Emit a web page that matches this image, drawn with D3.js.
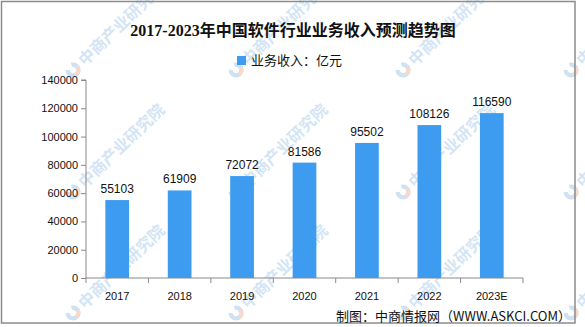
<!DOCTYPE html>
<html>
<head>
<meta charset="utf-8">
<script src="https://cdn.jsdelivr.net/npm/d3@7/dist/d3.min.js"></script>
<style>
  html, body { margin: 0; padding: 0; background: #fff; }
  svg { display: block; }
</style>
</head>
<body>
<div id="chart"></div>
<script>
// Software industry revenue, 100 million yuan
const years = ["2017", "2018", "2019", "2020", "2021", "2022", "2023E"];
const revenue = [55103, 61909, 72072, 81586, 95502, 108126, 116590];
const yTicks = [0, 20000, 40000, 60000, 80000, 100000, 120000, 140000];

const titleText = "2017-2023年中国软件行业业务收入预测趋势图";
const legendText = "业务收入：亿元";
const sourceText = "制图：中商情报网（WWW.ASKCI.COM）";
const markText = "中商产业研究院";

const W = 585, H = 327;
const barColor = "#3d9cf0";
const axisColor = "#8a8a8a";

const svg = d3.select("#chart").append("svg")
  .attr("width", W).attr("height", H);

svg.append("rect").attr("width", W).attr("height", H).attr("fill", "#fff");

// faint diagonal watermark grid
const wm = svg.append("g").attr("class", "watermarks");
const wmCols = [73, 236, 403, 571];
const wmRows = [70, 192, 313];
wmCols.forEach(cx => wmRows.forEach(cy => {
  const g = wm.append("g").attr("transform", `translate(${cx},${cy}) rotate(-44)`);
  const arc = d3.arc().innerRadius(3.2).outerRadius(7.5);
  g.append("path").attr("d", arc({startAngle: Math.PI * 0.15, endAngle: Math.PI * 1.75}))
    .attr("fill", "#cfe2f4");
  g.append("path").attr("d", arc({startAngle: Math.PI * 0.55, endAngle: Math.PI * 1.05}))
    .attr("fill", "#f6d9cc");
  g.append("text").attr("x", 11).attr("y", 6)
    .attr("font-family", "'Noto Sans CJK SC', sans-serif")
    .attr("font-weight", "bold")
    .attr("font-size", 16)
    .attr("fill", "#d3e5f5")
    .text(markText);
}));

// frame
svg.append("rect")
  .attr("x", 1.5).attr("y", 1.5).attr("width", 573.5).attr("height", 321.5)
  .attr("fill", "none").attr("stroke", "#8c8c8c").attr("stroke-width", 1.5);

const plot = { left: 86, right: 523, top: 80, bottom: 278 };

const x = d3.scaleBand().domain(years)
  .range([plot.left, plot.right])
  .paddingInner(0.62).paddingOuter(0.31);

const y = d3.scaleLinear().domain([0, 140000]).range([plot.bottom, plot.top]);

// title
svg.append("text")
  .attr("x", 293).attr("y", 36)
  .attr("text-anchor", "middle")
  .attr("font-family", "'Liberation Serif', 'Noto Sans CJK SC', serif")
  .attr("font-weight", "bold")
  .attr("font-size", 16)
  .attr("fill", "#111")
  .text(titleText);

// legend
svg.append("rect").attr("x", 237).attr("y", 56).attr("width", 9).attr("height", 9)
  .attr("fill", barColor);
svg.append("text")
  .attr("x", 251).attr("y", 65)
  .attr("font-family", "'Noto Sans CJK SC', sans-serif")
  .attr("font-size", 13)
  .attr("fill", "#111")
  .text(legendText);

// bars
svg.append("g").selectAll("rect").data(years).join("rect")
  .attr("x", d => x(d))
  .attr("y", (d, i) => y(revenue[i]))
  .attr("width", x.bandwidth())
  .attr("height", (d, i) => y(0) - y(revenue[i]))
  .attr("fill", barColor);

// value labels
svg.append("g").selectAll("text").data(years).join("text")
  .attr("x", d => x(d) + x.bandwidth() / 2)
  .attr("y", (d, i) => y(revenue[i]) - 7)
  .attr("text-anchor", "middle")
  .attr("font-family", "'Liberation Sans', Arial, sans-serif")
  .attr("font-size", 12)
  .attr("fill", "#111")
  .text((d, i) => revenue[i]);

// y axis
const yAxis = svg.append("g")
  .attr("transform", `translate(${plot.left},0)`)
  .call(d3.axisLeft(y).tickValues(yTicks).tickSize(5).tickPadding(3).tickFormat(d3.format("d")));
yAxis.selectAll("path, line").attr("stroke", axisColor);
yAxis.select(".domain").attr("d", `M-5,${plot.top}H0V${plot.bottom}`);
yAxis.selectAll("text")
  .attr("font-family", "'Liberation Sans', Arial, sans-serif")
  .attr("font-size", 11).attr("fill", "#111");

// x axis: ticks sit on category boundaries
const xAxis = svg.append("g").attr("transform", `translate(0,${plot.bottom})`);
xAxis.append("line")
  .attr("x1", plot.left).attr("x2", plot.right)
  .attr("stroke", axisColor);
const edges = d3.range(years.length + 1).map(i => plot.left + i * x.step());
xAxis.selectAll("line.tick").data(edges).join("line")
  .attr("class", "tick")
  .attr("x1", d => d).attr("x2", d => d)
  .attr("y1", 0).attr("y2", 5)
  .attr("stroke", axisColor);
xAxis.selectAll("text").data(years).join("text")
  .attr("x", d => x(d) + x.bandwidth() / 2)
  .attr("y", 22)
  .attr("text-anchor", "middle")
  .attr("font-family", "'Liberation Sans', Arial, sans-serif")
  .attr("font-size", 11)
  .attr("fill", "#111")
  .text(d => d);

// source note
svg.append("text")
  .attr("x", 571).attr("y", 323 - 1)
  .attr("dy", -1)
  .attr("text-anchor", "end")
  .attr("font-family", "'Noto Sans CJK SC', sans-serif")
  .attr("font-size", 13)
  .attr("fill", "#111")
  .text(sourceText);
</script>
</body>
</html>
